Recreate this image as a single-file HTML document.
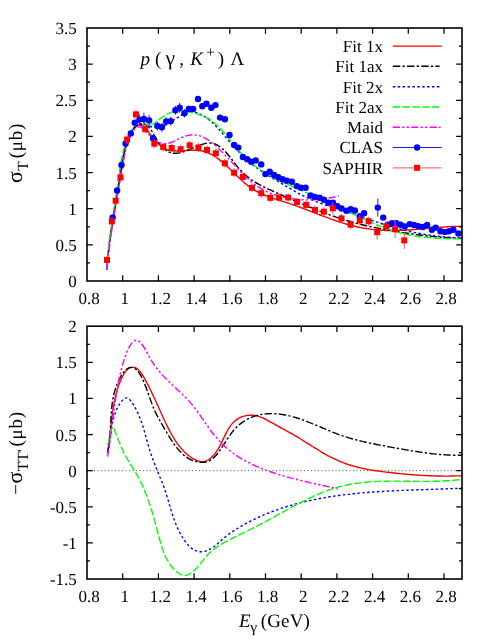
<!DOCTYPE html>
<html><head><meta charset="utf-8"><title>plot</title>
<style>
html,body{margin:0;padding:0;background:#fff;}
body{width:491px;height:639px;overflow:hidden;}
svg{display:block;will-change:transform;}
svg text{font-family:"Liberation Serif",serif;fill:#000;text-rendering:geometricPrecision;}
.tk{font-size:17px;}
.cv{fill:none;stroke-width:1.40;stroke-linejoin:round;}
</style></head><body>
<svg width="491" height="639" viewBox="0 0 491 639">
<rect x="0" y="0" width="491" height="639" fill="#fff"/>
<g id="p1">
<path class="cv" d="M106.90,269.60C106.9,268.9 107.1,266.9 107.1,265.6C107.2,264.2 107.3,262.9 107.4,261.5C107.5,260.2 107.7,258.9 107.8,257.5C107.9,256.2 108.0,254.9 108.2,253.5C108.3,252.2 108.4,250.9 108.6,249.6C108.7,248.2 108.9,246.9 109.0,245.6C109.2,244.3 109.4,242.9 109.5,241.6C109.7,240.3 109.9,239.0 110.1,237.7C110.2,236.4 110.4,235.1 110.6,233.7C110.8,232.4 111.0,231.1 111.2,229.8C111.4,228.5 111.6,227.2 111.8,225.9C112.0,224.6 112.2,223.3 112.4,222.0C112.6,220.6 112.8,219.3 113.0,218.0C113.2,216.7 113.5,215.4 113.7,214.1C113.9,212.8 114.1,211.5 114.3,210.2C114.5,208.9 114.8,207.6 115.0,206.2C115.2,204.9 115.4,203.6 115.6,202.3C115.9,201.0 116.1,199.7 116.3,198.4C116.5,197.1 116.7,195.7 117.0,194.4C117.2,193.1 117.4,191.8 117.6,190.5C117.8,189.2 118.0,187.8 118.2,186.5C118.5,185.2 118.7,183.9 118.9,182.5C119.1,181.2 119.3,179.9 119.5,178.5C119.7,177.2 119.9,175.9 120.1,174.5C120.3,173.2 120.5,171.9 120.7,170.5C120.9,169.2 121.1,167.9 121.3,166.5C121.5,165.2 121.7,163.9 121.9,162.5C122.2,161.2 122.4,159.9 122.7,158.6C122.9,157.2 123.2,155.9 123.5,154.6C123.8,153.3 124.1,152.0 124.4,150.7C124.7,149.4 125.0,148.1 125.4,146.8C125.8,145.6 126.1,144.3 126.5,143.0C127.0,141.7 127.4,140.5 127.8,139.2C128.3,138.0 128.8,136.8 129.3,135.6C129.9,134.3 130.4,133.1 131.0,131.9C131.6,130.8 132.2,129.6 133.0,128.6C133.8,127.6 134.7,126.7 135.7,126.1C136.7,125.5 138.0,125.1 139.1,125.0C140.2,125.0 141.3,125.3 142.4,125.8C143.4,126.4 144.4,127.2 145.3,128.1C146.3,129.1 147.2,130.2 148.1,131.3C149.0,132.4 149.8,133.7 150.7,134.8C151.6,136.0 152.5,137.1 153.4,138.2C154.3,139.4 155.1,140.5 156.1,141.5C157.0,142.6 157.9,143.6 158.9,144.5C159.9,145.4 160.9,146.3 161.9,147.0C163.0,147.8 164.1,148.4 165.2,149.0C166.4,149.5 167.6,149.9 168.8,150.2C170.0,150.5 171.3,150.7 172.6,150.8C173.9,151.0 175.2,151.0 176.6,151.0C177.9,151.0 179.3,151.0 180.7,150.9C182.1,150.8 183.5,150.7 184.9,150.6C186.3,150.5 187.7,150.4 189.1,150.3C190.5,150.3 191.9,150.2 193.3,150.2C194.6,150.2 196.0,150.2 197.3,150.3C198.6,150.4 199.9,150.6 201.2,150.8C202.4,151.0 203.7,151.4 204.9,151.7C206.1,152.1 207.3,152.6 208.4,153.1C209.6,153.6 210.7,154.1 211.9,154.7C213.0,155.3 214.1,156.0 215.2,156.7C216.2,157.4 217.3,158.1 218.4,158.9C219.4,159.7 220.4,160.5 221.5,161.4C222.5,162.2 223.5,163.1 224.5,164.0C225.5,164.9 226.5,165.8 227.5,166.7C228.5,167.7 229.5,168.6 230.5,169.6C231.5,170.5 232.4,171.5 233.4,172.5C234.4,173.4 235.4,174.4 236.4,175.4C237.4,176.3 238.3,177.3 239.3,178.2C240.3,179.1 241.3,180.1 242.3,181.0C243.3,181.9 244.4,182.8 245.4,183.6C246.4,184.5 247.5,185.3 248.5,186.1C249.6,186.9 250.6,187.7 251.7,188.4C252.8,189.1 253.9,189.8 255.0,190.5C256.2,191.1 257.3,191.7 258.4,192.3C259.6,192.9 260.8,193.4 261.9,194.0C263.1,194.5 264.3,195.0 265.5,195.5C266.7,196.0 267.9,196.4 269.1,196.9C270.3,197.3 271.6,197.7 272.8,198.2C274.0,198.6 275.3,199.0 276.5,199.4C277.8,199.8 279.0,200.2 280.3,200.6C281.5,201.0 282.8,201.4 284.1,201.8C285.3,202.2 286.6,202.6 287.9,203.0C289.1,203.4 290.4,203.8 291.7,204.3C292.9,204.7 294.2,205.2 295.5,205.6C296.7,206.1 298.0,206.5 299.3,207.0C300.5,207.5 301.8,207.9 303.1,208.4C304.4,208.9 305.6,209.4 306.9,209.9C308.2,210.4 309.5,210.8 310.7,211.3C312.0,211.8 313.3,212.3 314.5,212.8C315.8,213.3 317.1,213.8 318.4,214.3C319.6,214.8 320.9,215.3 322.2,215.8C323.5,216.2 324.8,216.7 326.0,217.2C327.3,217.7 328.6,218.2 329.9,218.6C331.1,219.1 332.4,219.5 333.7,220.0C335.0,220.4 336.3,220.9 337.6,221.3C338.8,221.7 340.1,222.2 341.4,222.6C342.7,223.0 344.0,223.4 345.3,223.8C346.5,224.1 347.8,224.5 349.1,224.9C350.4,225.2 351.7,225.5 353.0,225.9C354.3,226.2 355.6,226.5 356.8,226.8C358.1,227.1 359.4,227.3 360.7,227.6C362.0,227.8 363.3,228.1 364.6,228.3C365.9,228.5 367.2,228.7 368.5,228.9C369.8,229.1 371.1,229.2 372.4,229.4C373.7,229.5 375.0,229.7 376.3,229.8C377.6,229.9 378.9,230.0 380.2,230.1C381.5,230.2 382.8,230.3 384.1,230.3C385.4,230.4 386.7,230.5 388.0,230.5C389.3,230.5 390.6,230.5 391.9,230.5C393.2,230.5 394.5,230.5 395.9,230.5C397.2,230.5 398.5,230.4 399.8,230.4C401.1,230.3 402.4,230.3 403.7,230.2C405.0,230.1 406.4,230.1 407.7,230.0C409.0,229.9 410.3,229.8 411.6,229.7C413.0,229.6 414.3,229.5 415.6,229.4C416.9,229.3 418.3,229.1 419.6,229.0C420.9,228.9 422.2,228.8 423.6,228.7C424.9,228.5 426.2,228.4 427.6,228.3C428.9,228.2 430.2,228.0 431.6,227.9C432.9,227.8 434.2,227.7 435.6,227.6C436.9,227.5 438.2,227.3 439.6,227.2C440.9,227.1 442.3,227.0 443.6,227.0C445.0,226.9 446.3,226.8 447.7,226.7C449.0,226.6 450.3,226.6 451.7,226.5C453.0,226.5 454.4,226.4 455.8,226.4C457.1,226.4 458.8,226.4 459.8,226.4C460.9,226.4 461.7,226.4 462.0,226.4" stroke="#ff0000"/>
<path class="cv" d="M106.90,269.60C106.9,268.9 107.1,267.0 107.2,265.6C107.3,264.3 107.4,263.0 107.5,261.7C107.6,260.4 107.8,259.0 107.9,257.7C108.0,256.4 108.2,255.1 108.3,253.7C108.4,252.4 108.6,251.1 108.7,249.8C108.9,248.4 109.1,247.1 109.2,245.8C109.4,244.5 109.5,243.1 109.7,241.8C109.9,240.5 110.1,239.2 110.2,237.8C110.4,236.5 110.6,235.2 110.8,233.8C111.0,232.5 111.2,231.2 111.4,229.9C111.6,228.5 111.8,227.2 112.0,225.9C112.2,224.6 112.4,223.2 112.6,221.9C112.8,220.6 113.0,219.3 113.2,217.9C113.4,216.6 113.6,215.3 113.9,214.0C114.1,212.6 114.3,211.3 114.5,210.0C114.7,208.7 114.9,207.4 115.2,206.1C115.4,204.7 115.6,203.4 115.8,202.1C116.0,200.8 116.3,199.5 116.5,198.2C116.7,196.8 116.9,195.5 117.1,194.2C117.4,192.9 117.6,191.6 117.8,190.3C118.0,189.0 118.2,187.7 118.5,186.4C118.7,185.1 118.9,183.8 119.1,182.5C119.3,181.2 119.5,179.9 119.7,178.6C119.9,177.3 120.2,176.0 120.4,174.7C120.6,173.4 120.8,172.1 121.0,170.8C121.2,169.5 121.4,168.2 121.7,166.9C121.9,165.6 122.1,164.3 122.4,163.0C122.6,161.7 122.9,160.4 123.1,159.1C123.4,157.8 123.7,156.5 123.9,155.2C124.2,153.8 124.5,152.5 124.9,151.2C125.2,149.9 125.5,148.5 125.9,147.2C126.2,145.8 126.6,144.5 127.0,143.2C127.4,141.8 127.8,140.5 128.3,139.1C128.8,137.8 129.3,136.5 129.9,135.2C130.5,134.0 131.1,132.7 131.7,131.5C132.4,130.3 133.2,129.2 134.0,128.2C134.8,127.2 135.7,126.3 136.6,125.6C137.6,124.9 138.6,124.3 139.7,124.0C140.7,123.7 141.9,123.5 142.9,123.7C144.0,123.8 145.1,124.1 146.1,124.7C147.1,125.2 148.0,126.0 148.8,126.9C149.7,127.8 150.4,128.9 151.2,130.1C151.9,131.2 152.6,132.6 153.3,133.8C154.1,135.1 154.8,136.5 155.6,137.7C156.3,139.0 157.1,140.4 158.0,141.6C158.8,142.8 159.7,144.1 160.6,145.2C161.5,146.3 162.4,147.4 163.4,148.3C164.4,149.2 165.4,150.1 166.4,150.8C167.5,151.5 168.5,152.0 169.7,152.4C170.8,152.8 171.9,153.1 173.1,153.2C174.3,153.3 175.5,153.3 176.7,153.2C178.0,153.1 179.2,152.8 180.5,152.6C181.8,152.3 183.1,151.9 184.4,151.5C185.7,151.0 187.0,150.5 188.3,150.0C189.6,149.5 190.9,148.9 192.2,148.4C193.6,147.8 194.9,147.3 196.2,146.7C197.5,146.2 198.8,145.6 200.1,145.1C201.4,144.7 202.7,144.2 204.0,143.8C205.2,143.5 206.5,143.2 207.7,143.1C208.9,143.0 210.2,143.0 211.4,143.1C212.5,143.3 213.7,143.6 214.9,144.0C216.0,144.4 217.1,145.0 218.2,145.7C219.3,146.3 220.4,147.1 221.5,147.9C222.5,148.8 223.5,149.8 224.5,150.7C225.5,151.7 226.4,152.8 227.3,153.8C228.2,154.9 229.1,156.0 230.0,157.0C230.8,158.1 231.6,159.2 232.4,160.2C233.2,161.3 234.0,162.4 234.8,163.4C235.7,164.5 236.5,165.5 237.3,166.6C238.2,167.6 239.0,168.6 240.0,169.6C240.9,170.6 241.8,171.6 242.8,172.6C243.8,173.5 244.8,174.4 245.9,175.3C246.9,176.2 248.0,177.1 249.0,177.9C250.1,178.8 251.2,179.6 252.3,180.3C253.4,181.1 254.5,181.8 255.6,182.5C256.8,183.1 257.9,183.8 259.0,184.4C260.2,185.0 261.3,185.6 262.5,186.2C263.6,186.8 264.8,187.4 266.0,187.9C267.1,188.5 268.3,189.0 269.5,189.6C270.7,190.1 271.9,190.7 273.1,191.2C274.3,191.7 275.5,192.3 276.7,192.8C277.9,193.4 279.1,193.9 280.3,194.4C281.5,195.0 282.7,195.5 283.9,196.1C285.2,196.6 286.4,197.1 287.6,197.7C288.8,198.2 290.1,198.8 291.3,199.3C292.5,199.8 293.7,200.4 295.0,200.9C296.2,201.4 297.4,202.0 298.7,202.5C299.9,203.0 301.2,203.5 302.4,204.1C303.6,204.6 304.9,205.1 306.1,205.6C307.4,206.1 308.6,206.7 309.8,207.2C311.1,207.7 312.3,208.2 313.6,208.7C314.8,209.2 316.1,209.7 317.3,210.2C318.6,210.7 319.8,211.2 321.1,211.7C322.4,212.1 323.6,212.6 324.9,213.1C326.1,213.6 327.4,214.0 328.7,214.5C329.9,214.9 331.2,215.4 332.4,215.8C333.7,216.3 335.0,216.7 336.2,217.2C337.5,217.6 338.8,218.0 340.1,218.4C341.3,218.8 342.6,219.3 343.9,219.7C345.1,220.1 346.4,220.4 347.7,220.8C349.0,221.2 350.2,221.6 351.5,221.9C352.8,222.3 354.1,222.7 355.4,223.0C356.7,223.4 357.9,223.7 359.2,224.0C360.5,224.3 361.8,224.7 363.1,225.0C364.4,225.3 365.7,225.6 366.9,225.9C368.2,226.2 369.5,226.4 370.8,226.7C372.1,227.0 373.4,227.3 374.7,227.5C376.0,227.8 377.3,228.1 378.6,228.3C379.9,228.6 381.2,228.8 382.5,229.1C383.8,229.3 385.1,229.5 386.4,229.8C387.7,230.0 389.0,230.2 390.3,230.4C391.6,230.7 392.9,230.9 394.2,231.1C395.5,231.3 396.9,231.5 398.2,231.8C399.5,232.0 400.8,232.2 402.1,232.4C403.4,232.6 404.7,232.8 406.0,233.0C407.4,233.2 408.7,233.4 410.0,233.6C411.3,233.8 412.6,234.0 413.9,234.2C415.3,234.4 416.6,234.5 417.9,234.7C419.2,234.9 420.5,235.1 421.9,235.2C423.2,235.4 424.5,235.6 425.8,235.7C427.2,235.9 428.5,236.0 429.8,236.2C431.2,236.3 432.5,236.5 433.8,236.6C435.1,236.7 436.5,236.9 437.8,237.0C439.1,237.1 440.5,237.2 441.8,237.3C443.1,237.4 444.5,237.5 445.8,237.6C447.1,237.7 448.5,237.8 449.8,237.8C451.1,237.9 452.5,238.0 453.8,238.0C455.2,238.1 456.5,238.1 457.8,238.1C459.2,238.2 461.2,238.2 461.9,238.2C462.6,238.2 462.0,238.2 462.0,238.2" stroke="#000000" stroke-dasharray="7.5,2.2,2.3,2.2"/>
<path class="cv" d="M106.90,269.60C106.9,268.9 107.1,267.0 107.2,265.7C107.2,264.4 107.3,263.0 107.5,261.7C107.6,260.4 107.7,259.1 107.8,257.8C107.9,256.4 108.1,255.1 108.2,253.8C108.3,252.5 108.5,251.1 108.6,249.8C108.8,248.5 108.9,247.2 109.1,245.8C109.3,244.5 109.4,243.2 109.6,241.8C109.8,240.5 110.0,239.2 110.2,237.9C110.3,236.5 110.5,235.2 110.7,233.9C110.9,232.5 111.1,231.2 111.3,229.9C111.5,228.5 111.7,227.2 111.9,225.9C112.1,224.5 112.3,223.2 112.6,221.9C112.8,220.6 113.0,219.2 113.2,217.9C113.4,216.6 113.6,215.2 113.8,213.9C114.1,212.6 114.3,211.3 114.5,209.9C114.7,208.6 115.0,207.3 115.2,206.0C115.4,204.7 115.6,203.3 115.8,202.0C116.1,200.7 116.3,199.4 116.5,198.1C116.7,196.8 116.9,195.5 117.2,194.1C117.4,192.8 117.6,191.5 117.8,190.2C118.0,188.9 118.2,187.6 118.4,186.3C118.6,185.0 118.8,183.7 119.0,182.4C119.3,181.1 119.4,179.9 119.6,178.6C119.8,177.3 120.0,176.0 120.2,174.7C120.4,173.4 120.6,172.2 120.8,170.9C121.0,169.6 121.2,168.3 121.4,167.0C121.6,165.7 121.8,164.4 122.1,163.1C122.3,161.8 122.5,160.5 122.8,159.2C123.0,157.9 123.3,156.6 123.6,155.2C123.9,153.9 124.2,152.6 124.5,151.2C124.8,149.8 125.1,148.5 125.5,147.1C125.9,145.7 126.3,144.3 126.7,142.9C127.1,141.5 127.6,140.1 128.1,138.8C128.6,137.4 129.1,136.1 129.7,134.9C130.3,133.7 130.9,132.5 131.6,131.4C132.3,130.3 133.1,129.3 133.9,128.4C134.8,127.5 135.6,126.8 136.6,126.2C137.6,125.6 138.6,125.1 139.7,124.8C140.8,124.6 142.0,124.5 143.2,124.6C144.4,124.7 145.6,125.1 146.9,125.4C148.1,125.7 149.4,126.2 150.7,126.5C152.0,126.8 153.3,127.1 154.6,127.1C155.9,127.2 157.2,127.2 158.5,127.0C159.8,126.8 161.1,126.5 162.3,126.1C163.6,125.7 164.8,125.1 166.0,124.5C167.2,123.9 168.4,123.2 169.6,122.5C170.8,121.8 172.0,121.0 173.2,120.3C174.4,119.5 175.6,118.7 176.8,117.9C178.0,117.2 179.2,116.4 180.4,115.7C181.6,115.0 182.9,114.3 184.1,113.8C185.4,113.2 186.6,112.7 187.9,112.4C189.1,112.1 190.4,111.9 191.6,111.9C192.9,111.9 194.1,112.1 195.3,112.4C196.6,112.7 197.8,113.1 198.9,113.6C200.1,114.1 201.3,114.7 202.4,115.3C203.5,115.9 204.6,116.6 205.7,117.3C206.7,118.0 207.8,118.8 208.8,119.6C209.8,120.4 210.8,121.2 211.8,122.1C212.8,123.0 213.7,123.9 214.7,124.9C215.6,125.8 216.5,126.8 217.5,127.8C218.4,128.8 219.3,129.8 220.2,130.8C221.1,131.8 222.0,132.9 222.9,133.9C223.8,135.0 224.7,136.0 225.6,137.1C226.5,138.1 227.3,139.2 228.2,140.2C229.1,141.3 230.0,142.4 230.9,143.4C231.8,144.4 232.7,145.4 233.6,146.5C234.5,147.5 235.4,148.5 236.3,149.4C237.3,150.4 238.2,151.4 239.1,152.4C240.0,153.3 241.0,154.3 241.9,155.2C242.9,156.1 243.8,157.0 244.8,157.9C245.8,158.8 246.8,159.7 247.7,160.6C248.7,161.4 249.7,162.3 250.7,163.1C251.7,164.0 252.7,164.8 253.8,165.6C254.8,166.4 255.8,167.2 256.9,167.9C257.9,168.7 259.0,169.4 260.0,170.2C261.1,170.9 262.2,171.6 263.2,172.3C264.3,173.0 265.4,173.7 266.5,174.4C267.6,175.1 268.7,175.8 269.9,176.5C271.0,177.2 272.1,177.9 273.2,178.6C274.4,179.2 275.5,179.9 276.7,180.6C277.8,181.3 279.0,182.0 280.1,182.7C281.3,183.4 282.4,184.0 283.6,184.7C284.8,185.4 286.0,186.1 287.1,186.8C288.3,187.5 289.5,188.2 290.7,188.9C291.9,189.6 293.1,190.3 294.3,191.0C295.5,191.7 296.7,192.3 297.9,193.0C299.1,193.6 300.3,194.3 301.5,194.9C302.7,195.5 303.9,196.1 305.2,196.7C306.4,197.3 307.6,197.9 308.8,198.4C310.0,199.0 311.2,199.5 312.5,200.0C313.7,200.6 314.9,201.1 316.1,201.6C317.4,202.0 318.6,202.5 319.8,203.0C321.0,203.4 322.3,203.9 323.5,204.3C324.7,204.8 326.0,205.2 327.2,205.6C328.4,206.0 329.7,206.5 330.9,206.9C332.2,207.3 333.4,207.7 334.6,208.1C335.9,208.5 337.1,208.9 338.4,209.3C339.6,209.7 340.9,210.0 342.1,210.4C343.4,210.8 344.6,211.2 345.9,211.6C347.1,212.0 348.4,212.4 349.6,212.8C350.9,213.2 352.1,213.6 353.4,214.0C354.6,214.4 355.9,214.9 357.2,215.3C358.4,215.7 359.7,216.1 361.0,216.6C362.2,217.0 363.5,217.4 364.7,217.8C366.0,218.3 367.3,218.7 368.6,219.2C369.8,219.6 371.1,220.0 372.4,220.5C373.6,220.9 374.9,221.3 376.2,221.8C377.5,222.2 378.7,222.6 380.0,223.0C381.3,223.5 382.6,223.9 383.9,224.3C385.2,224.7 386.4,225.1 387.7,225.5C389.0,225.9 390.3,226.3 391.6,226.7C392.9,227.1 394.2,227.5 395.5,227.8C396.7,228.2 398.0,228.6 399.3,228.9C400.6,229.3 401.9,229.6 403.2,229.9C404.5,230.3 405.8,230.6 407.1,230.9C408.4,231.2 409.7,231.5 411.0,231.8C412.3,232.0 413.6,232.3 414.9,232.6C416.2,232.8 417.5,233.1 418.8,233.3C420.2,233.6 421.5,233.8 422.8,234.0C424.1,234.2 425.4,234.5 426.7,234.7C428.0,234.9 429.3,235.1 430.7,235.2C432.0,235.4 433.3,235.6 434.6,235.8C435.9,235.9 437.2,236.1 438.6,236.2C439.9,236.4 441.2,236.5 442.5,236.7C443.9,236.8 445.2,236.9 446.5,237.1C447.8,237.2 449.2,237.3 450.5,237.4C451.8,237.5 453.1,237.6 454.5,237.7C455.8,237.8 457.2,237.8 458.5,237.9C459.7,238.0 461.4,238.1 462.0,238.1" stroke="#0000ff" stroke-dasharray="2.5,2.4"/>
<path class="cv" d="M106.90,269.60C106.9,268.9 107.0,266.9 107.1,265.5C107.2,264.2 107.2,262.8 107.3,261.5C107.4,260.1 107.5,258.8 107.6,257.5C107.7,256.1 107.8,254.8 107.9,253.5C108.1,252.1 108.2,250.8 108.3,249.5C108.5,248.2 108.6,246.8 108.7,245.5C108.9,244.2 109.0,242.9 109.2,241.6C109.4,240.2 109.5,238.9 109.7,237.6C109.9,236.3 110.0,235.0 110.2,233.7C110.4,232.4 110.6,231.1 110.7,229.7C110.9,228.4 111.1,227.1 111.3,225.8C111.5,224.5 111.7,223.2 111.9,221.9C112.1,220.6 112.3,219.3 112.5,218.0C112.7,216.7 112.9,215.4 113.1,214.1C113.3,212.8 113.5,211.5 113.7,210.2C113.9,208.8 114.2,207.5 114.4,206.2C114.6,204.9 114.8,203.6 115.0,202.3C115.2,201.0 115.4,199.7 115.6,198.4C115.8,197.0 116.0,195.7 116.2,194.4C116.5,193.1 116.7,191.8 116.9,190.4C117.1,189.1 117.3,187.8 117.5,186.5C117.7,185.1 117.9,183.8 118.1,182.5C118.2,181.1 118.4,179.8 118.6,178.5C118.8,177.1 119.0,175.8 119.2,174.4C119.4,173.1 119.6,171.7 119.7,170.4C119.9,169.1 120.1,167.7 120.3,166.4C120.5,165.0 120.8,163.7 121.0,162.4C121.2,161.0 121.4,159.7 121.7,158.4C122.0,157.0 122.2,155.7 122.5,154.4C122.8,153.1 123.1,151.8 123.4,150.5C123.8,149.2 124.1,147.9 124.5,146.7C124.9,145.4 125.3,144.1 125.7,142.9C126.2,141.7 126.6,140.4 127.1,139.2C127.7,138.0 128.2,136.8 128.8,135.6C129.3,134.4 129.9,133.3 130.6,132.1C131.3,131.0 131.9,129.9 132.7,128.7C133.4,127.6 134.2,126.5 135.0,125.5C135.9,124.5 136.8,123.3 137.7,122.6C138.6,121.8 139.6,121.1 140.6,120.9C141.6,120.8 142.6,121.1 143.7,121.8C144.7,122.4 145.8,124.2 146.9,124.8C148.0,125.3 149.2,125.5 150.3,125.2C151.5,125.0 152.6,124.0 153.8,123.3C155.0,122.5 156.2,121.7 157.4,120.8C158.6,120.0 159.8,119.1 161.0,118.2C162.2,117.4 163.4,116.5 164.6,115.8C165.9,115.0 167.1,114.3 168.3,113.7C169.6,113.1 170.8,112.5 172.1,112.1C173.3,111.8 174.6,111.5 175.9,111.3C177.1,111.1 178.4,111.0 179.7,111.0C180.9,111.0 182.2,111.0 183.5,111.1C184.8,111.2 186.1,111.4 187.3,111.6C188.6,111.8 189.9,112.1 191.2,112.3C192.5,112.6 193.7,112.9 195.0,113.3C196.3,113.6 197.6,114.0 198.8,114.4C200.1,114.9 201.3,115.3 202.5,115.8C203.8,116.3 205.0,116.9 206.1,117.5C207.3,118.1 208.5,118.7 209.6,119.4C210.7,120.1 211.8,120.9 212.9,121.7C214.0,122.5 215.0,123.3 216.0,124.2C217.0,125.1 218.0,126.1 219.0,127.0C219.9,128.0 220.9,129.0 221.8,130.0C222.7,131.0 223.6,132.0 224.4,133.0C225.3,134.0 226.1,135.1 227.0,136.1C227.8,137.1 228.6,138.2 229.5,139.2C230.3,140.3 231.1,141.3 231.9,142.3C232.7,143.4 233.6,144.4 234.4,145.4C235.2,146.4 236.1,147.5 236.9,148.5C237.8,149.5 238.6,150.5 239.5,151.5C240.4,152.5 241.3,153.5 242.3,154.4C243.2,155.4 244.1,156.3 245.1,157.3C246.1,158.2 247.0,159.1 248.0,160.0C249.0,160.9 250.0,161.8 251.0,162.6C252.1,163.5 253.1,164.3 254.1,165.1C255.2,165.9 256.2,166.7 257.3,167.5C258.4,168.3 259.5,169.0 260.6,169.7C261.7,170.5 262.8,171.2 263.9,171.9C265.0,172.6 266.2,173.3 267.3,174.0C268.4,174.6 269.6,175.3 270.8,175.9C271.9,176.6 273.1,177.2 274.3,177.8C275.4,178.5 276.6,179.1 277.8,179.7C279.0,180.3 280.2,180.9 281.4,181.5C282.6,182.0 283.8,182.6 285.0,183.2C286.2,183.7 287.4,184.3 288.6,184.9C289.8,185.4 291.1,186.0 292.3,186.5C293.5,187.1 294.7,187.6 296.0,188.1C297.2,188.7 298.4,189.2 299.6,189.7C300.9,190.3 302.1,190.8 303.3,191.3C304.5,191.9 305.8,192.4 307.0,192.9C308.2,193.5 309.4,194.0 310.7,194.5C311.9,195.1 313.1,195.6 314.3,196.1C315.5,196.7 316.7,197.2 318.0,197.7C319.2,198.3 320.4,198.8 321.6,199.3C322.8,199.9 324.0,200.4 325.3,201.0C326.5,201.5 327.7,202.0 328.9,202.6C330.1,203.1 331.3,203.7 332.6,204.2C333.8,204.8 335.0,205.3 336.2,205.9C337.4,206.4 338.6,207.0 339.8,207.5C341.1,208.1 342.3,208.7 343.5,209.2C344.7,209.8 345.9,210.3 347.1,210.9C348.3,211.5 349.6,212.0 350.8,212.6C352.0,213.2 353.2,213.8 354.4,214.3C355.7,214.9 356.9,215.5 358.1,216.1C359.3,216.7 360.5,217.2 361.8,217.8C363.0,218.4 364.2,219.0 365.4,219.6C366.7,220.1 367.9,220.7 369.1,221.3C370.3,221.8 371.6,222.4 372.8,222.9C374.0,223.5 375.3,224.0 376.5,224.6C377.7,225.1 379.0,225.6 380.2,226.1C381.5,226.6 382.7,227.1 383.9,227.6C385.2,228.1 386.4,228.6 387.7,229.0C388.9,229.5 390.2,229.9 391.4,230.3C392.7,230.8 393.9,231.2 395.2,231.5C396.4,231.9 397.7,232.3 399.0,232.6C400.2,233.0 401.5,233.3 402.8,233.6C404.0,233.9 405.3,234.2 406.6,234.5C407.8,234.7 409.1,235.0 410.4,235.2C411.7,235.5 413.0,235.7 414.3,235.9C415.5,236.1 416.8,236.3 418.1,236.5C419.4,236.6 420.7,236.8 422.0,237.0C423.3,237.1 424.6,237.3 425.9,237.4C427.2,237.5 428.5,237.6 429.9,237.7C431.2,237.8 432.5,237.9 433.8,238.0C435.1,238.1 436.5,238.2 437.8,238.3C439.1,238.4 440.5,238.4 441.8,238.5C443.2,238.5 444.5,238.6 445.9,238.6C447.2,238.7 448.6,238.7 449.9,238.8C451.3,238.8 452.6,238.8 454.0,238.9C455.4,238.9 456.8,238.9 458.1,238.9C459.5,239.0 461.4,239.0 462.0,239.0" stroke="#00ff00" stroke-dasharray="7.5,2.3"/>
<path class="cv" d="M106.90,269.60C107.0,268.9 107.2,267.0 107.3,265.7C107.4,264.3 107.6,263.0 107.7,261.7C107.8,260.4 108.0,259.1 108.1,257.8C108.3,256.4 108.4,255.1 108.6,253.8C108.8,252.5 108.9,251.2 109.1,249.8C109.2,248.5 109.4,247.2 109.6,245.9C109.8,244.5 109.9,243.2 110.1,241.9C110.3,240.6 110.5,239.2 110.6,237.9C110.8,236.6 111.0,235.3 111.2,234.0C111.4,232.6 111.6,231.3 111.8,230.0C112.0,228.7 112.2,227.3 112.4,226.0C112.6,224.7 112.8,223.4 113.0,222.0C113.2,220.7 113.4,219.4 113.6,218.1C113.8,216.7 114.0,215.4 114.3,214.1C114.5,212.8 114.7,211.4 114.9,210.1C115.1,208.8 115.4,207.5 115.6,206.2C115.8,204.8 116.0,203.5 116.3,202.2C116.5,200.9 116.7,199.5 117.0,198.2C117.2,196.9 117.4,195.6 117.7,194.3C117.9,193.0 118.1,191.6 118.4,190.3C118.6,189.0 118.9,187.7 119.1,186.4C119.3,185.1 119.6,183.8 119.8,182.4C120.1,181.1 120.3,179.8 120.5,178.5C120.8,177.2 121.0,175.9 121.3,174.6C121.5,173.3 121.7,172.0 122.0,170.7C122.2,169.4 122.4,168.1 122.6,166.8C122.9,165.5 123.1,164.2 123.3,162.9C123.5,161.6 123.8,160.3 124.0,159.0C124.2,157.7 124.4,156.4 124.7,155.1C124.9,153.8 125.2,152.5 125.5,151.2C125.7,149.9 126.0,148.6 126.4,147.4C126.7,146.1 127.1,144.8 127.5,143.5C127.9,142.2 128.4,141.0 128.9,139.7C129.4,138.4 130.0,137.1 130.6,135.9C131.2,134.6 131.9,133.3 132.7,132.1C133.4,130.9 134.2,129.8 135.0,128.9C135.9,128.1 136.8,127.4 137.7,127.1C138.6,126.8 139.5,126.9 140.5,127.2C141.4,127.6 142.4,128.3 143.4,129.1C144.5,129.9 145.5,131.0 146.5,132.0C147.6,133.0 148.7,134.2 149.8,135.3C150.9,136.3 152.0,137.5 153.2,138.4C154.3,139.4 155.5,140.3 156.7,141.0C157.8,141.8 159.1,142.4 160.3,142.8C161.5,143.3 162.7,143.6 164.0,143.7C165.2,143.8 166.5,143.6 167.7,143.4C169.0,143.2 170.3,142.7 171.5,142.3C172.8,141.8 174.1,141.2 175.3,140.6C176.6,140.0 177.9,139.3 179.2,138.7C180.4,138.1 181.7,137.5 182.9,137.0C184.2,136.5 185.4,136.1 186.7,135.8C187.9,135.4 189.1,135.2 190.4,135.0C191.6,134.9 192.8,134.8 194.0,134.9C195.2,134.9 196.4,135.0 197.6,135.3C198.8,135.5 199.9,135.8 201.1,136.2C202.3,136.7 203.4,137.2 204.5,137.8C205.7,138.4 206.8,139.0 207.9,139.7C209.0,140.5 210.1,141.3 211.2,142.1C212.3,142.9 213.4,143.8 214.5,144.7C215.5,145.6 216.6,146.6 217.6,147.5C218.6,148.5 219.6,149.5 220.7,150.5C221.7,151.5 222.6,152.5 223.6,153.5C224.6,154.5 225.6,155.5 226.5,156.5C227.5,157.5 228.4,158.5 229.3,159.6C230.3,160.6 231.2,161.6 232.1,162.6C233.1,163.6 234.0,164.6 234.9,165.6C235.8,166.6 236.8,167.5 237.7,168.5C238.6,169.5 239.5,170.5 240.4,171.4C241.4,172.4 242.3,173.3 243.2,174.2C244.2,175.2 245.1,176.1 246.1,177.0C247.0,177.9 248.0,178.7 249.0,179.6C249.9,180.5 250.9,181.3 251.9,182.1C252.9,182.9 253.9,183.7 255.0,184.5C256.0,185.2 257.1,186.0 258.1,186.7C259.2,187.4 260.3,188.1 261.4,188.7C262.5,189.4 263.7,190.0 264.8,190.6C266.0,191.2 267.2,191.7 268.4,192.3C269.6,192.8 270.8,193.3 272.0,193.8C273.3,194.2 274.5,194.7 275.8,195.1C277.1,195.5 278.3,195.9 279.6,196.2C280.9,196.6 282.2,196.9 283.5,197.2C284.9,197.5 286.2,197.8 287.5,198.1C288.9,198.3 290.2,198.5 291.6,198.7C292.9,198.9 294.3,199.1 295.6,199.2C297.0,199.4 298.4,199.5 299.7,199.6C301.1,199.7 302.5,199.8 303.8,199.8C305.2,199.9 306.6,199.9 307.9,199.9C309.3,199.9 310.7,199.9 312.0,199.8C313.4,199.8 314.7,199.7 316.1,199.6C317.4,199.5 318.8,199.4 320.1,199.3C321.5,199.1 322.8,199.0 324.1,198.8C325.4,198.6 326.7,198.4 328.0,198.2C329.3,198.0 330.6,197.8 331.9,197.5C333.1,197.3 334.4,197.0 335.6,196.7C336.8,196.4 338.4,196.0 339.0,195.8" stroke="#ff00ff" stroke-dasharray="7.2,2.2,2.3,2.2,2.3,2.2"/>
<path d="M139.4,114.6v10.0M143.9,112.5v13.0M149.1,115.0v11.0M157.4,121.6v8.8M161.9,122.8v9.0M166.2,117.3v8.4M170.8,116.5v9.2M175.4,105.7v9.0M179.7,102.7v10.0M184.5,109.0v8.4M377.8,198.6v18.0" stroke="#0000ff" stroke-width="0.9" fill="none"/>
<g fill="#0000ff"><circle cx="112.7" cy="217.5" r="3.2"/><circle cx="117.1" cy="190.4" r="3.2"/><circle cx="121.5" cy="165.0" r="3.2"/><circle cx="125.6" cy="143.4" r="3.2"/><circle cx="130.8" cy="133.4" r="3.2"/><circle cx="134.8" cy="122.7" r="3.2"/><circle cx="139.4" cy="119.6" r="3.2"/><circle cx="143.9" cy="119.0" r="3.2"/><circle cx="149.1" cy="120.5" r="3.2"/><circle cx="153.1" cy="138.2" r="3.2"/><circle cx="157.4" cy="126.0" r="3.2"/><circle cx="161.9" cy="127.3" r="3.2"/><circle cx="166.2" cy="121.5" r="3.2"/><circle cx="170.8" cy="121.1" r="3.2"/><circle cx="175.4" cy="110.2" r="3.2"/><circle cx="179.7" cy="107.7" r="3.2"/><circle cx="184.5" cy="113.2" r="3.2"/><circle cx="188.8" cy="108.9" r="3.2"/><circle cx="193.1" cy="108.9" r="3.2"/><circle cx="198.0" cy="99.0" r="3.2"/><circle cx="202.3" cy="106.2" r="3.2"/><circle cx="206.4" cy="103.7" r="3.2"/><circle cx="211.3" cy="107.7" r="3.2"/><circle cx="215.5" cy="105.1" r="3.2"/><circle cx="220.1" cy="117.6" r="3.2"/><circle cx="224.9" cy="119.3" r="3.2"/><circle cx="229.5" cy="135.0" r="3.2"/><circle cx="234.1" cy="145.0" r="3.2"/><circle cx="238.3" cy="147.6" r="3.2"/><circle cx="242.9" cy="157.0" r="3.2"/><circle cx="247.2" cy="159.3" r="3.2"/><circle cx="251.2" cy="161.8" r="3.2"/><circle cx="255.7" cy="160.4" r="3.2"/><circle cx="261.2" cy="164.4" r="3.2"/><circle cx="265.4" cy="174.1" r="3.2"/><circle cx="269.7" cy="171.8" r="3.2"/><circle cx="274.0" cy="175.0" r="3.2"/><circle cx="278.3" cy="177.2" r="3.2"/><circle cx="282.5" cy="179.2" r="3.2"/><circle cx="286.8" cy="180.7" r="3.2"/><circle cx="291.9" cy="181.8" r="3.2"/><circle cx="296.8" cy="186.1" r="3.2"/><circle cx="301.1" cy="187.8" r="3.2"/><circle cx="305.6" cy="187.8" r="3.2"/><circle cx="310.5" cy="195.5" r="3.2"/><circle cx="314.8" cy="196.9" r="3.2"/><circle cx="319.6" cy="197.8" r="3.2"/><circle cx="323.9" cy="199.8" r="3.2"/><circle cx="328.5" cy="202.8" r="3.2"/><circle cx="333.0" cy="202.7" r="3.2"/><circle cx="337.3" cy="206.2" r="3.2"/><circle cx="341.5" cy="208.5" r="3.2"/><circle cx="346.4" cy="210.7" r="3.2"/><circle cx="350.7" cy="209.3" r="3.2"/><circle cx="354.9" cy="210.5" r="3.2"/><circle cx="359.8" cy="216.2" r="3.2"/><circle cx="364.1" cy="213.3" r="3.2"/><circle cx="377.8" cy="207.6" r="3.2"/><circle cx="383.2" cy="217.6" r="3.2"/><circle cx="387.7" cy="224.7" r="3.2"/><circle cx="392.0" cy="223.3" r="3.2"/><circle cx="396.3" cy="223.3" r="3.2"/><circle cx="400.6" cy="224.7" r="3.2"/><circle cx="404.8" cy="226.4" r="3.2"/><circle cx="409.7" cy="224.1" r="3.2"/><circle cx="414.0" cy="225.0" r="3.2"/><circle cx="418.2" cy="226.1" r="3.2"/><circle cx="422.8" cy="227.0" r="3.2"/><circle cx="427.1" cy="225.0" r="3.2"/><circle cx="431.9" cy="229.8" r="3.2"/><circle cx="435.6" cy="227.6" r="3.2"/><circle cx="440.5" cy="231.3" r="3.2"/><circle cx="444.8" cy="232.1" r="3.2"/><circle cx="449.0" cy="231.3" r="3.2"/><circle cx="453.3" cy="229.8" r="3.2"/><circle cx="458.4" cy="233.5" r="3.2"/></g>
<path d="M107.0,255.9v8.0M111.9,217.4v8.0M115.7,196.7v8.0M120.5,173.4v8.0M127.1,135.0v9.0M136.0,109.4v10.0M145.2,124.6v9.0M154.3,139.2v9.0M163.2,142.6v9.0M171.7,143.5v9.0M180.6,144.7v9.0M189.7,140.8v9.0M198.5,142.9v9.0M207.0,145.4v9.0M215.8,148.8v9.0M224.9,158.8v9.0M234.1,168.2v9.0M242.9,172.5v9.0M252.0,183.3v9.0M261.2,188.7v9.0M270.3,193.3v9.0M279.1,193.5v8.0M288.2,193.5v8.0M297.1,198.0v8.0M306.2,200.9v8.0M315.0,205.5v9.0M323.9,207.2v9.0M332.8,202.4v12.0M341.5,213.9v9.0M350.7,220.2v9.0M359.8,215.4v10.0M368.6,216.8v9.0M377.2,224.6v15.0M386.3,221.4v10.0M395.1,220.8v17.0M404.3,231.9v17.0" stroke="#ff5555" stroke-width="1" fill="none"/>
<g fill="#ff0000"><rect x="104.0" y="256.9" width="6" height="6"/><rect x="108.9" y="218.4" width="6" height="6"/><rect x="112.7" y="197.7" width="6" height="6"/><rect x="117.5" y="174.4" width="6" height="6"/><rect x="124.1" y="136.5" width="6" height="6"/><rect x="133.0" y="111.4" width="6" height="6"/><rect x="142.2" y="126.1" width="6" height="6"/><rect x="151.3" y="140.7" width="6" height="6"/><rect x="160.2" y="144.1" width="6" height="6"/><rect x="168.7" y="145.0" width="6" height="6"/><rect x="177.6" y="146.2" width="6" height="6"/><rect x="186.7" y="142.3" width="6" height="6"/><rect x="195.5" y="144.4" width="6" height="6"/><rect x="204.0" y="146.9" width="6" height="6"/><rect x="212.8" y="150.3" width="6" height="6"/><rect x="221.9" y="160.3" width="6" height="6"/><rect x="231.1" y="169.7" width="6" height="6"/><rect x="239.9" y="174.0" width="6" height="6"/><rect x="249.0" y="184.8" width="6" height="6"/><rect x="258.2" y="190.2" width="6" height="6"/><rect x="267.3" y="194.8" width="6" height="6"/><rect x="276.1" y="194.5" width="6" height="6"/><rect x="285.2" y="194.5" width="6" height="6"/><rect x="294.1" y="199.0" width="6" height="6"/><rect x="303.2" y="201.9" width="6" height="6"/><rect x="312.0" y="207.0" width="6" height="6"/><rect x="320.9" y="208.7" width="6" height="6"/><rect x="329.8" y="205.4" width="6" height="6"/><rect x="338.5" y="215.4" width="6" height="6"/><rect x="347.7" y="221.7" width="6" height="6"/><rect x="356.8" y="217.4" width="6" height="6"/><rect x="365.6" y="218.3" width="6" height="6"/><rect x="374.2" y="229.1" width="6" height="6"/><rect x="383.3" y="223.4" width="6" height="6"/><rect x="392.1" y="226.3" width="6" height="6"/><rect x="401.3" y="237.4" width="6" height="6"/></g>
<path d="M122.70,281.00v-5.8M122.70,28.00v5.8M158.40,281.00v-5.8M158.40,28.00v5.8M194.10,281.00v-5.8M194.10,28.00v5.8M229.80,281.00v-5.8M229.80,28.00v5.8M265.50,281.00v-5.8M265.50,28.00v5.8M301.20,281.00v-5.8M301.20,28.00v5.8M336.90,281.00v-5.8M336.90,28.00v5.8M372.60,281.00v-5.8M372.60,28.00v5.8M408.30,281.00v-5.8M408.30,28.00v5.8M444.00,281.00v-5.8M444.00,28.00v5.8M87.00,262.93h3.0M462.00,262.93h-3.0M87.00,244.86h5.8M462.00,244.86h-5.8M87.00,226.79h3.0M462.00,226.79h-3.0M87.00,208.71h5.8M462.00,208.71h-5.8M87.00,190.64h3.0M462.00,190.64h-3.0M87.00,172.57h5.8M462.00,172.57h-5.8M87.00,154.50h3.0M462.00,154.50h-3.0M87.00,136.43h5.8M462.00,136.43h-5.8M87.00,118.36h3.0M462.00,118.36h-3.0M87.00,100.29h5.8M462.00,100.29h-5.8M87.00,82.21h3.0M462.00,82.21h-3.0M87.00,64.14h5.8M462.00,64.14h-5.8M87.00,46.07h3.0M462.00,46.07h-3.0" stroke="#000" stroke-width="1.25" fill="none"/>
<rect x="87.00" y="28.00" width="375.00" height="253.00" fill="none" stroke="#000" stroke-width="1.6"/>
</g>
<g id="p2">
<path d="M87.0,470.66H462.0" stroke="#000" stroke-width="0.7" stroke-dasharray="1,2.5" fill="none"/>
<path class="cv" d="M107.70,451.50C107.8,450.8 108.2,448.8 108.4,447.5C108.7,446.2 108.9,444.8 109.1,443.5C109.3,442.2 109.5,440.8 109.6,439.5C109.8,438.2 110.0,436.9 110.1,435.5C110.3,434.2 110.4,432.9 110.5,431.6C110.7,430.3 110.8,428.9 110.9,427.6C111.1,426.3 111.2,425.0 111.3,423.7C111.5,422.4 111.6,421.1 111.8,419.7C111.9,418.4 112.0,417.1 112.2,415.8C112.3,414.5 112.5,413.2 112.7,411.9C112.8,410.6 113.0,409.3 113.2,408.0C113.4,406.7 113.6,405.4 113.9,404.1C114.1,402.7 114.3,401.4 114.6,400.1C114.9,398.8 115.2,397.5 115.5,396.2C115.8,394.9 116.1,393.6 116.5,392.3C116.9,391.0 117.2,389.7 117.7,388.4C118.1,387.1 118.5,385.8 119.0,384.5C119.5,383.2 120.0,381.9 120.6,380.6C121.1,379.3 121.7,378.0 122.4,376.7C123.0,375.4 123.7,374.2 124.4,373.0C125.2,371.9 126.0,370.8 126.9,370.0C127.8,369.1 128.8,368.3 129.8,367.9C130.8,367.4 131.8,367.1 132.9,367.1C133.9,367.1 134.9,367.4 135.9,367.9C136.8,368.4 137.8,369.2 138.7,370.0C139.6,370.9 140.4,372.0 141.3,373.1C142.1,374.3 142.9,375.6 143.7,376.9C144.4,378.1 145.2,379.5 145.9,380.9C146.6,382.2 147.3,383.6 148.0,384.9C148.6,386.2 149.3,387.5 149.9,388.7C150.5,390.0 151.1,391.2 151.7,392.4C152.3,393.7 152.9,394.9 153.4,396.0C154.0,397.2 154.6,398.4 155.1,399.6C155.6,400.7 156.2,401.9 156.7,403.1C157.2,404.2 157.7,405.4 158.3,406.5C158.8,407.7 159.3,408.9 159.8,410.0C160.3,411.2 160.8,412.3 161.4,413.5C161.9,414.7 162.4,415.8 162.9,417.0C163.5,418.2 164.0,419.3 164.6,420.5C165.1,421.7 165.7,422.9 166.2,424.1C166.8,425.2 167.4,426.4 168.0,427.6C168.6,428.8 169.2,430.0 169.9,431.2C170.5,432.4 171.2,433.6 171.9,434.8C172.5,436.0 173.2,437.2 174.0,438.4C174.7,439.5 175.4,440.7 176.2,441.8C177.0,443.0 177.8,444.1 178.6,445.2C179.5,446.3 180.3,447.4 181.2,448.4C182.1,449.4 183.1,450.4 184.0,451.4C185.0,452.4 186.0,453.3 187.0,454.2C188.0,455.1 189.1,455.9 190.2,456.7C191.3,457.5 192.4,458.3 193.6,458.9C194.8,459.6 196.0,460.3 197.2,460.7C198.4,461.2 199.7,461.5 200.9,461.7C202.1,461.8 203.3,461.7 204.5,461.4C205.7,461.1 206.9,460.6 208.0,460.0C209.1,459.4 210.1,458.6 211.1,457.8C212.1,457.0 213.0,456.0 213.8,455.0C214.7,454.1 215.5,453.0 216.3,451.9C217.1,450.7 217.8,449.6 218.5,448.4C219.3,447.2 219.9,445.9 220.6,444.7C221.2,443.4 221.8,442.1 222.4,440.9C223.0,439.6 223.6,438.3 224.2,437.1C224.8,435.8 225.4,434.6 226.0,433.4C226.6,432.2 227.2,431.0 227.9,429.8C228.6,428.7 229.2,427.5 230.0,426.5C230.7,425.4 231.5,424.4 232.4,423.4C233.3,422.4 234.2,421.5 235.2,420.7C236.2,419.9 237.3,419.1 238.5,418.5C239.6,417.8 240.9,417.2 242.1,416.7C243.4,416.3 244.7,415.9 246.0,415.6C247.3,415.3 248.6,415.2 249.9,415.1C251.2,415.1 252.4,415.1 253.7,415.3C255.0,415.5 256.3,415.8 257.5,416.1C258.8,416.4 260.0,416.9 261.2,417.4C262.5,417.8 263.7,418.4 264.9,419.0C266.1,419.6 267.3,420.2 268.5,420.8C269.7,421.5 270.9,422.2 272.1,422.9C273.3,423.5 274.5,424.2 275.7,424.9C276.8,425.6 278.0,426.2 279.2,426.8C280.3,427.5 281.5,428.1 282.6,428.7C283.8,429.3 285.0,430.0 286.1,430.6C287.3,431.2 288.4,431.8 289.5,432.5C290.7,433.1 291.8,433.8 293.0,434.4C294.1,435.1 295.3,435.8 296.4,436.4C297.5,437.1 298.7,437.8 299.8,438.5C301.0,439.2 302.1,439.9 303.2,440.7C304.4,441.4 305.5,442.1 306.7,442.8C307.8,443.5 308.9,444.2 310.1,444.9C311.2,445.7 312.4,446.4 313.5,447.1C314.7,447.8 315.8,448.5 317.0,449.2C318.1,449.9 319.3,450.6 320.4,451.3C321.6,452.0 322.8,452.7 323.9,453.3C325.1,454.0 326.3,454.7 327.4,455.3C328.6,455.9 329.8,456.6 331.0,457.2C332.2,457.8 333.4,458.4 334.6,458.9C335.7,459.5 337.0,460.1 338.2,460.6C339.4,461.1 340.6,461.7 341.8,462.1C343.0,462.6 344.3,463.1 345.5,463.5C346.7,464.0 348.0,464.4 349.2,464.8C350.5,465.2 351.7,465.6 353.0,465.9C354.3,466.3 355.5,466.6 356.8,467.0C358.1,467.3 359.3,467.6 360.6,467.9C361.9,468.2 363.2,468.5 364.5,468.7C365.8,469.0 367.1,469.2 368.4,469.5C369.7,469.7 371.0,470.0 372.3,470.2C373.6,470.4 374.9,470.6 376.2,470.8C377.5,471.0 378.9,471.2 380.2,471.3C381.5,471.5 382.8,471.7 384.2,471.9C385.5,472.0 386.8,472.2 388.2,472.3C389.5,472.5 390.8,472.7 392.2,472.8C393.5,473.0 394.9,473.1 396.2,473.2C397.5,473.4 398.9,473.5 400.2,473.6C401.6,473.8 402.9,473.9 404.3,474.0C405.6,474.2 407.0,474.3 408.3,474.4C409.7,474.5 411.0,474.6 412.3,474.7C413.7,474.8 415.0,474.9 416.4,475.0C417.7,475.1 419.1,475.2 420.4,475.3C421.8,475.4 423.1,475.4 424.5,475.5C425.8,475.6 427.2,475.6 428.5,475.7C429.8,475.8 431.2,475.8 432.5,475.9C433.9,475.9 435.2,475.9 436.5,476.0C437.9,476.0 439.2,476.0 440.5,476.0C441.9,476.1 443.2,476.1 444.5,476.1C445.8,476.1 447.2,476.1 448.5,476.1C449.8,476.1 451.1,476.0 452.4,476.0C453.7,476.0 455.0,476.0 456.3,475.9C457.6,475.9 459.3,475.8 460.2,475.8C461.2,475.7 461.7,475.7 462.0,475.7" stroke="#ff0000"/>
<path class="cv" d="M107.70,451.50C107.8,450.8 108.2,448.9 108.5,447.6C108.7,446.3 108.9,444.9 109.1,443.6C109.3,442.3 109.4,441.0 109.6,439.7C109.7,438.3 109.8,437.0 109.9,435.7C110.0,434.4 110.1,433.0 110.2,431.7C110.3,430.4 110.4,429.0 110.4,427.7C110.5,426.4 110.6,425.0 110.7,423.7C110.7,422.4 110.8,421.0 110.9,419.7C110.9,418.4 111.0,417.0 111.1,415.7C111.2,414.4 111.3,413.0 111.4,411.7C111.5,410.4 111.6,409.0 111.7,407.7C111.9,406.4 112.0,405.1 112.2,403.7C112.4,402.4 112.6,401.1 112.8,399.8C113.0,398.4 113.3,397.1 113.6,395.8C113.9,394.5 114.2,393.2 114.5,391.9C114.9,390.6 115.3,389.3 115.7,388.0C116.1,386.7 116.6,385.4 117.1,384.1C117.6,382.8 118.2,381.5 118.8,380.3C119.4,379.0 120.1,377.7 120.8,376.5C121.5,375.2 122.3,374.0 123.1,372.9C123.9,371.9 124.7,370.8 125.6,370.0C126.5,369.2 127.4,368.5 128.3,368.1C129.3,367.6 130.3,367.4 131.3,367.4C132.3,367.4 133.3,367.7 134.3,368.2C135.3,368.7 136.2,369.5 137.1,370.3C138.0,371.2 138.8,372.3 139.6,373.5C140.4,374.7 141.1,376.0 141.8,377.4C142.5,378.7 143.1,380.2 143.7,381.6C144.3,383.0 144.9,384.5 145.4,385.9C146.0,387.3 146.5,388.6 147.0,390.0C147.5,391.3 147.9,392.6 148.4,393.9C148.8,395.2 149.3,396.5 149.7,397.7C150.2,399.0 150.6,400.2 151.1,401.4C151.5,402.6 151.9,403.8 152.4,405.0C152.9,406.1 153.3,407.3 153.8,408.5C154.3,409.6 154.8,410.8 155.3,411.9C155.9,413.1 156.4,414.2 157.0,415.3C157.6,416.5 158.2,417.6 158.8,418.7C159.4,419.9 160.0,421.0 160.7,422.1C161.3,423.3 162.0,424.4 162.7,425.6C163.3,426.7 164.0,427.9 164.7,429.0C165.4,430.2 166.1,431.3 166.8,432.5C167.5,433.7 168.2,434.9 168.9,436.1C169.7,437.2 170.4,438.4 171.1,439.6C171.9,440.8 172.6,441.9 173.4,443.1C174.2,444.2 175.0,445.4 175.8,446.4C176.7,447.5 177.5,448.6 178.4,449.6C179.3,450.7 180.2,451.7 181.1,452.6C182.1,453.6 183.0,454.5 184.0,455.3C185.1,456.1 186.1,456.9 187.2,457.6C188.3,458.4 189.4,459.0 190.6,459.6C191.8,460.2 193.1,460.7 194.3,461.1C195.6,461.5 196.9,461.8 198.2,462.0C199.5,462.3 200.8,462.4 202.1,462.4C203.3,462.4 204.6,462.2 205.8,462.0C207.0,461.7 208.2,461.3 209.4,460.8C210.5,460.2 211.5,459.5 212.6,458.7C213.6,457.9 214.5,457.0 215.5,456.0C216.4,455.0 217.3,453.9 218.1,452.8C219.0,451.7 219.8,450.5 220.5,449.4C221.3,448.2 222.1,447.1 222.8,445.9C223.6,444.8 224.3,443.6 225.1,442.5C225.8,441.3 226.5,440.2 227.3,439.0C228.0,437.9 228.7,436.8 229.5,435.7C230.3,434.6 231.1,433.6 231.9,432.5C232.7,431.5 233.5,430.4 234.4,429.4C235.3,428.5 236.3,427.5 237.2,426.6C238.2,425.7 239.2,424.8 240.3,423.9C241.4,423.1 242.5,422.3 243.6,421.5C244.7,420.8 245.9,420.1 247.0,419.4C248.2,418.8 249.4,418.2 250.6,417.7C251.8,417.1 253.0,416.7 254.3,416.2C255.5,415.8 256.8,415.5 258.0,415.2C259.3,414.8 260.6,414.6 261.9,414.4C263.2,414.1 264.5,414.0 265.8,413.9C267.1,413.7 268.4,413.7 269.7,413.6C271.0,413.6 272.3,413.6 273.6,413.7C274.9,413.7 276.3,413.8 277.6,413.9C278.9,414.0 280.2,414.2 281.6,414.4C282.9,414.6 284.2,414.8 285.5,415.0C286.8,415.3 288.1,415.6 289.4,415.9C290.7,416.2 292.0,416.5 293.3,416.9C294.6,417.2 295.9,417.6 297.1,418.0C298.4,418.4 299.7,418.8 301.0,419.3C302.2,419.7 303.5,420.2 304.7,420.6C306.0,421.1 307.2,421.6 308.5,422.1C309.8,422.6 311.0,423.1 312.2,423.6C313.5,424.1 314.7,424.6 316.0,425.1C317.2,425.6 318.5,426.2 319.7,426.7C320.9,427.2 322.2,427.8 323.4,428.3C324.7,428.8 325.9,429.3 327.1,429.9C328.4,430.4 329.6,430.9 330.9,431.4C332.1,431.9 333.3,432.4 334.6,432.9C335.8,433.4 337.1,433.9 338.3,434.3C339.6,434.8 340.8,435.2 342.1,435.7C343.3,436.1 344.6,436.5 345.9,436.9C347.1,437.3 348.4,437.7 349.7,438.1C350.9,438.5 352.2,438.8 353.5,439.2C354.7,439.5 356.0,439.9 357.3,440.2C358.6,440.5 359.9,440.8 361.2,441.1C362.4,441.4 363.7,441.7 365.0,442.0C366.3,442.3 367.6,442.6 368.9,442.9C370.2,443.2 371.5,443.4 372.8,443.7C374.1,443.9 375.4,444.2 376.7,444.5C378.0,444.7 379.3,445.0 380.6,445.2C381.9,445.4 383.2,445.7 384.5,445.9C385.8,446.2 387.2,446.4 388.5,446.7C389.8,446.9 391.1,447.1 392.4,447.4C393.7,447.6 395.0,447.9 396.4,448.1C397.7,448.3 399.0,448.6 400.3,448.8C401.6,449.0 403.0,449.3 404.3,449.5C405.6,449.7 406.9,450.0 408.3,450.2C409.6,450.4 410.9,450.7 412.2,450.9C413.6,451.1 414.9,451.3 416.2,451.5C417.5,451.7 418.9,451.9 420.2,452.1C421.5,452.3 422.9,452.5 424.2,452.7C425.5,452.9 426.8,453.0 428.2,453.2C429.5,453.4 430.8,453.5 432.2,453.7C433.5,453.8 434.8,454.0 436.1,454.1C437.5,454.2 438.8,454.4 440.1,454.5C441.5,454.6 442.8,454.7 444.1,454.8C445.4,454.9 446.8,454.9 448.1,455.0C449.4,455.1 450.7,455.1 452.1,455.2C453.4,455.2 454.7,455.2 456.0,455.2C457.3,455.2 459.0,455.2 460.0,455.2C461.0,455.2 461.7,455.2 462.0,455.2" stroke="#000000" stroke-dasharray="7.5,2.2,2.3,2.2"/>
<path class="cv" d="M107.70,453.20C107.8,452.6 108.2,450.9 108.5,449.6C108.7,448.4 108.9,447.2 109.1,445.9C109.3,444.6 109.5,443.3 109.7,441.9C109.8,440.6 110.0,439.3 110.2,437.9C110.4,436.5 110.6,435.2 110.8,433.8C110.9,432.4 111.1,431.0 111.4,429.6C111.6,428.2 111.8,426.8 112.0,425.5C112.3,424.1 112.6,422.7 112.9,421.3C113.2,420.0 113.5,418.6 113.9,417.3C114.3,416.0 114.7,414.6 115.1,413.4C115.6,412.1 116.1,410.8 116.6,409.6C117.2,408.4 117.8,407.2 118.4,406.0C119.1,404.8 119.8,403.7 120.6,402.6C121.3,401.6 122.2,400.5 123.1,399.7C123.9,398.9 124.9,398.1 125.8,397.9C126.7,397.8 127.6,398.1 128.5,398.6C129.4,399.2 130.3,400.3 131.1,401.4C131.9,402.4 132.7,403.7 133.5,404.9C134.2,406.0 134.9,407.2 135.6,408.4C136.2,409.6 136.8,410.9 137.4,412.1C138.0,413.3 138.6,414.6 139.1,415.8C139.6,417.1 140.1,418.3 140.6,419.6C141.0,420.8 141.5,422.1 141.9,423.4C142.4,424.6 142.8,425.9 143.2,427.2C143.6,428.5 143.9,429.8 144.3,431.1C144.7,432.4 145.0,433.7 145.4,435.0C145.7,436.2 146.1,437.5 146.5,438.8C146.8,440.1 147.2,441.4 147.5,442.7C147.9,444.0 148.2,445.3 148.6,446.6C149.0,447.8 149.4,449.1 149.8,450.4C150.2,451.7 150.6,452.9 151.0,454.2C151.4,455.5 151.9,456.7 152.3,458.0C152.8,459.2 153.3,460.4 153.7,461.7C154.2,462.9 154.7,464.2 155.2,465.4C155.7,466.6 156.2,467.9 156.7,469.1C157.2,470.3 157.7,471.5 158.2,472.8C158.7,474.0 159.2,475.2 159.7,476.5C160.2,477.7 160.7,478.9 161.2,480.2C161.7,481.4 162.2,482.6 162.7,483.9C163.2,485.1 163.6,486.4 164.1,487.6C164.5,488.9 165.0,490.1 165.4,491.4C165.8,492.7 166.2,493.9 166.6,495.2C167.0,496.5 167.4,497.8 167.8,499.1C168.2,500.3 168.6,501.6 168.9,502.9C169.3,504.2 169.7,505.5 170.1,506.8C170.5,508.1 170.8,509.3 171.2,510.6C171.6,511.9 172.0,513.2 172.4,514.4C172.9,515.7 173.3,517.0 173.7,518.2C174.2,519.5 174.6,520.8 175.1,522.0C175.6,523.3 176.0,524.5 176.6,525.7C177.1,527.0 177.6,528.2 178.2,529.4C178.8,530.6 179.3,531.8 180.0,533.0C180.6,534.2 181.3,535.4 182.0,536.5C182.7,537.7 183.4,538.8 184.2,540.0C184.9,541.1 185.7,542.2 186.6,543.3C187.5,544.3 188.4,545.3 189.3,546.3C190.3,547.2 191.3,548.1 192.4,548.8C193.5,549.5 194.6,550.2 195.7,550.7C196.9,551.1 198.1,551.5 199.3,551.7C200.5,551.8 201.7,551.8 202.9,551.7C204.1,551.5 205.3,551.2 206.5,550.8C207.7,550.4 208.9,549.8 210.0,549.1C211.2,548.5 212.3,547.8 213.5,547.0C214.6,546.2 215.7,545.3 216.7,544.4C217.8,543.6 218.8,542.6 219.8,541.7C220.9,540.8 221.9,539.8 222.9,538.9C224.0,538.0 225.0,537.2 226.1,536.3C227.2,535.5 228.3,534.6 229.4,533.8C230.5,533.0 231.6,532.3 232.7,531.5C233.8,530.7 235.0,530.0 236.1,529.3C237.3,528.6 238.4,527.9 239.6,527.2C240.8,526.5 241.9,525.8 243.1,525.2C244.3,524.5 245.4,523.8 246.6,523.2C247.8,522.6 249.0,522.0 250.2,521.3C251.4,520.7 252.6,520.1 253.8,519.6C255.0,519.0 256.2,518.4 257.4,517.8C258.6,517.3 259.8,516.7 261.0,516.2C262.2,515.6 263.4,515.1 264.6,514.6C265.9,514.1 267.1,513.6 268.3,513.1C269.6,512.6 270.8,512.1 272.0,511.7C273.3,511.2 274.5,510.7 275.7,510.3C277.0,509.8 278.2,509.4 279.5,509.0C280.7,508.5 282.0,508.1 283.2,507.7C284.5,507.3 285.7,506.9 287.0,506.5C288.3,506.1 289.5,505.7 290.8,505.4C292.1,505.0 293.3,504.6 294.6,504.3C295.9,503.9 297.2,503.6 298.4,503.3C299.7,502.9 301.0,502.6 302.3,502.3C303.6,502.0 304.8,501.7 306.1,501.4C307.4,501.1 308.7,500.8 310.0,500.5C311.3,500.2 312.6,499.9 313.9,499.7C315.2,499.4 316.5,499.1 317.8,498.9C319.1,498.6 320.4,498.4 321.7,498.2C323.0,497.9 324.3,497.7 325.6,497.5C326.9,497.2 328.2,497.0 329.6,496.8C330.9,496.6 332.2,496.4 333.5,496.2C334.8,496.0 336.1,495.8 337.5,495.6C338.8,495.5 340.1,495.3 341.4,495.1C342.8,494.9 344.1,494.8 345.4,494.6C346.7,494.5 348.1,494.3 349.4,494.2C350.7,494.0 352.0,493.9 353.4,493.7C354.7,493.6 356.0,493.5 357.4,493.3C358.7,493.2 360.0,493.1 361.4,493.0C362.7,492.8 364.0,492.7 365.4,492.6C366.7,492.5 368.1,492.4 369.4,492.3C370.7,492.2 372.1,492.1 373.4,492.0C374.7,491.9 376.1,491.8 377.4,491.7C378.8,491.6 380.1,491.5 381.4,491.5C382.8,491.4 384.1,491.3 385.5,491.2C386.8,491.2 388.2,491.1 389.5,491.0C390.8,490.9 392.2,490.9 393.5,490.8C394.9,490.7 396.2,490.7 397.5,490.6C398.9,490.6 400.2,490.5 401.6,490.4C402.9,490.4 404.2,490.3 405.6,490.3C406.9,490.2 408.3,490.2 409.6,490.1C410.9,490.1 412.3,490.0 413.6,490.0C415.0,489.9 416.3,489.9 417.6,489.8C419.0,489.8 420.3,489.7 421.6,489.7C423.0,489.6 424.3,489.6 425.6,489.6C427.0,489.5 428.3,489.5 429.6,489.4C431.0,489.4 432.3,489.3 433.6,489.3C435.0,489.2 436.3,489.2 437.6,489.1C438.9,489.1 440.3,489.0 441.6,489.0C442.9,489.0 444.2,488.9 445.6,488.9C446.9,488.8 448.2,488.7 449.5,488.7C450.8,488.6 452.2,488.6 453.5,488.5C454.8,488.5 456.1,488.4 457.4,488.4C458.7,488.3 460.6,488.2 461.3,488.2C462.1,488.1 461.9,488.1 462.0,488.1" stroke="#0000ff" stroke-dasharray="2.5,2.4"/>
<path class="cv" d="M107.70,444.70C107.8,444.3 108.1,443.4 108.4,442.2C108.6,441.0 108.9,439.1 109.3,437.4C109.6,435.8 110.0,433.8 110.4,432.3C110.9,430.8 111.3,429.2 111.8,428.4C112.2,427.7 112.7,427.3 113.2,427.7C113.7,428.0 114.2,429.2 114.8,430.4C115.3,431.5 115.8,433.2 116.3,434.6C116.9,436.0 117.4,437.3 117.9,438.7C118.4,440.0 118.9,441.3 119.5,442.6C120.0,443.9 120.5,445.1 121.1,446.3C121.6,447.6 122.2,448.8 122.7,450.0C123.3,451.1 123.9,452.3 124.5,453.5C125.0,454.6 125.6,455.7 126.2,456.9C126.9,458.0 127.5,459.1 128.1,460.2C128.8,461.4 129.4,462.5 130.1,463.6C130.8,464.7 131.5,465.8 132.2,466.9C132.9,468.0 133.6,469.1 134.3,470.3C135.0,471.4 135.7,472.5 136.4,473.7C137.0,474.8 137.7,476.0 138.3,477.2C138.9,478.3 139.6,479.5 140.2,480.7C140.8,481.9 141.3,483.1 141.9,484.3C142.5,485.5 143.0,486.7 143.6,488.0C144.1,489.2 144.6,490.4 145.1,491.7C145.6,492.9 146.1,494.2 146.6,495.4C147.1,496.7 147.5,497.9 148.0,499.2C148.5,500.4 148.9,501.7 149.3,503.0C149.8,504.3 150.2,505.5 150.6,506.8C151.0,508.1 151.4,509.4 151.8,510.7C152.2,512.0 152.6,513.2 153.0,514.5C153.4,515.8 153.7,517.1 154.1,518.4C154.5,519.7 154.8,521.0 155.2,522.3C155.5,523.6 155.9,524.8 156.2,526.1C156.6,527.4 156.9,528.7 157.2,530.0C157.6,531.3 157.9,532.6 158.2,533.8C158.5,535.1 158.9,536.4 159.2,537.6C159.5,538.9 159.9,540.2 160.2,541.4C160.5,542.7 160.9,543.9 161.3,545.2C161.7,546.4 162.1,547.7 162.5,548.9C162.9,550.1 163.4,551.4 163.9,552.6C164.4,553.8 164.9,555.0 165.4,556.2C166.0,557.4 166.6,558.6 167.3,559.8C168.0,560.9 168.7,562.1 169.4,563.3C170.2,564.4 171.0,565.6 171.9,566.7C172.8,567.8 173.8,569.0 174.8,570.0C175.8,571.0 176.9,572.0 177.9,572.8C179.0,573.6 180.1,574.3 181.3,574.8C182.4,575.2 183.5,575.6 184.7,575.6C185.8,575.6 186.9,575.3 188.1,574.9C189.2,574.5 190.3,573.8 191.3,573.0C192.4,572.3 193.4,571.4 194.4,570.5C195.4,569.6 196.3,568.5 197.3,567.5C198.2,566.4 199.1,565.3 200.1,564.2C201.0,563.1 201.9,561.9 202.7,560.8C203.6,559.6 204.5,558.5 205.4,557.4C206.3,556.4 207.2,555.3 208.1,554.3C209.0,553.4 209.9,552.5 210.9,551.7C211.8,550.8 212.8,550.1 213.8,549.3C214.7,548.5 215.8,547.8 216.8,547.1C217.9,546.4 219.0,545.7 220.1,545.0C221.2,544.3 222.3,543.7 223.5,543.0C224.6,542.4 225.8,541.7 227.0,541.1C228.1,540.4 229.4,539.8 230.6,539.2C231.8,538.6 233.0,538.0 234.2,537.4C235.4,536.8 236.6,536.2 237.9,535.6C239.1,535.0 240.3,534.4 241.5,533.8C242.7,533.2 243.9,532.7 245.1,532.1C246.3,531.5 247.5,530.9 248.7,530.3C249.8,529.8 251.0,529.2 252.2,528.6C253.4,528.0 254.5,527.4 255.7,526.8C256.9,526.2 258.0,525.6 259.2,525.0C260.3,524.4 261.5,523.8 262.7,523.2C263.8,522.6 265.0,521.9 266.2,521.3C267.3,520.7 268.5,520.0 269.7,519.4C270.8,518.8 272.0,518.1 273.2,517.5C274.3,516.8 275.5,516.2 276.7,515.5C277.8,514.9 279.0,514.2 280.2,513.6C281.4,512.9 282.5,512.3 283.7,511.6C284.9,511.0 286.1,510.3 287.3,509.7C288.4,509.0 289.6,508.4 290.8,507.7C292.0,507.1 293.2,506.5 294.4,505.8C295.5,505.2 296.7,504.6 297.9,503.9C299.1,503.3 300.3,502.7 301.5,502.1C302.7,501.5 303.9,500.9 305.1,500.3C306.3,499.7 307.5,499.1 308.7,498.5C310.0,497.9 311.2,497.4 312.4,496.8C313.6,496.2 314.8,495.7 316.0,495.2C317.3,494.6 318.5,494.1 319.7,493.6C320.9,493.1 322.2,492.6 323.4,492.1C324.6,491.6 325.9,491.1 327.1,490.7C328.4,490.2 329.6,489.8 330.9,489.3C332.1,488.9 333.4,488.5 334.6,488.1C335.9,487.7 337.2,487.4 338.4,487.0C339.7,486.6 341.0,486.3 342.2,486.0C343.5,485.7 344.8,485.4 346.1,485.1C347.4,484.8 348.7,484.6 349.9,484.3C351.2,484.1 352.5,483.9 353.8,483.7C355.1,483.4 356.4,483.3 357.8,483.1C359.1,482.9 360.4,482.7 361.7,482.6C363.0,482.4 364.3,482.3 365.6,482.2C367.0,482.1 368.3,482.0 369.6,481.9C370.9,481.8 372.3,481.7 373.6,481.6C374.9,481.5 376.3,481.5 377.6,481.4C378.9,481.4 380.3,481.3 381.6,481.3C382.9,481.2 384.3,481.2 385.6,481.2C387.0,481.2 388.3,481.1 389.7,481.1C391.0,481.1 392.4,481.1 393.7,481.1C395.0,481.1 396.4,481.1 397.7,481.1C399.1,481.1 400.4,481.1 401.8,481.2C403.1,481.2 404.5,481.2 405.8,481.2C407.2,481.2 408.5,481.2 409.9,481.3C411.2,481.3 412.6,481.3 413.9,481.3C415.3,481.3 416.6,481.3 418.0,481.4C419.3,481.4 420.7,481.4 422.0,481.4C423.4,481.4 424.7,481.4 426.1,481.4C427.4,481.4 428.7,481.4 430.1,481.4C431.4,481.3 432.8,481.3 434.1,481.3C435.4,481.3 436.8,481.2 438.1,481.2C439.4,481.2 440.8,481.1 442.1,481.0C443.4,481.0 444.7,480.9 446.1,480.8C447.4,480.8 448.7,480.7 450.0,480.6C451.3,480.5 452.7,480.3 454.0,480.2C455.3,480.1 456.6,479.9 457.9,479.8C459.2,479.6 461.1,479.4 461.8,479.3C462.5,479.2 461.9,479.3 462.0,479.3" stroke="#00ff00" stroke-dasharray="7.5,2.3"/>
<path class="cv" d="M107.70,456.60C107.8,456.0 108.1,454.1 108.2,452.8C108.4,451.5 108.6,450.2 108.7,448.9C108.9,447.6 109.1,446.3 109.3,445.0C109.4,443.7 109.6,442.4 109.8,441.0C110.0,439.7 110.1,438.4 110.3,437.1C110.5,435.7 110.7,434.4 110.8,433.1C111.0,431.7 111.2,430.4 111.4,429.0C111.5,427.7 111.7,426.4 111.9,425.0C112.1,423.7 112.3,422.3 112.4,421.0C112.6,419.6 112.8,418.3 113.0,416.9C113.2,415.6 113.4,414.3 113.6,412.9C113.7,411.6 113.9,410.2 114.1,408.9C114.3,407.5 114.5,406.2 114.7,404.9C114.9,403.5 115.1,402.2 115.3,400.9C115.5,399.6 115.7,398.2 116.0,396.9C116.2,395.6 116.4,394.3 116.6,393.0C116.8,391.7 117.0,390.4 117.3,389.1C117.5,387.8 117.7,386.5 118.0,385.2C118.2,384.0 118.4,382.7 118.7,381.4C118.9,380.2 119.2,378.9 119.4,377.7C119.7,376.4 120.0,375.2 120.2,373.9C120.5,372.7 120.8,371.4 121.1,370.1C121.4,368.9 121.8,367.6 122.1,366.3C122.5,365.0 122.9,363.7 123.3,362.4C123.7,361.0 124.1,359.7 124.6,358.3C125.0,356.9 125.5,355.5 126.1,354.1C126.6,352.7 127.2,351.3 127.8,349.9C128.4,348.6 129.1,347.3 129.8,346.1C130.5,344.9 131.2,343.8 132.0,342.9C132.8,342.0 133.7,341.2 134.5,340.7C135.4,340.3 136.3,340.1 137.2,340.3C138.1,340.5 139.0,341.2 139.8,341.9C140.7,342.7 141.5,343.7 142.3,344.8C143.1,345.8 143.8,347.0 144.5,348.1C145.3,349.3 145.9,350.6 146.6,351.8C147.3,353.1 148.0,354.4 148.7,355.6C149.4,356.9 150.1,358.2 150.8,359.4C151.5,360.6 152.3,361.8 153.0,363.0C153.8,364.2 154.6,365.3 155.4,366.4C156.2,367.5 157.0,368.6 157.9,369.6C158.7,370.7 159.6,371.7 160.5,372.7C161.3,373.7 162.2,374.7 163.1,375.6C164.0,376.6 164.9,377.6 165.9,378.5C166.8,379.4 167.7,380.4 168.7,381.3C169.6,382.2 170.5,383.1 171.5,384.0C172.4,384.9 173.4,385.8 174.3,386.7C175.3,387.6 176.2,388.5 177.2,389.4C178.1,390.3 179.1,391.2 180.0,392.1C181.0,393.0 181.9,393.9 182.9,394.8C183.8,395.7 184.7,396.6 185.6,397.5C186.6,398.5 187.5,399.4 188.4,400.4C189.3,401.4 190.2,402.4 191.0,403.4C191.9,404.4 192.8,405.4 193.6,406.4C194.4,407.5 195.3,408.5 196.1,409.6C196.9,410.7 197.7,411.8 198.5,412.9C199.3,414.0 200.1,415.1 200.8,416.3C201.6,417.4 202.4,418.5 203.2,419.7C204.0,420.8 204.7,421.9 205.5,423.1C206.3,424.2 207.1,425.3 207.9,426.5C208.6,427.6 209.4,428.7 210.2,429.8C211.0,430.9 211.8,432.0 212.7,433.0C213.5,434.1 214.3,435.2 215.2,436.2C216.0,437.2 216.9,438.2 217.8,439.2C218.6,440.2 219.5,441.2 220.4,442.1C221.4,443.0 222.3,444.0 223.2,444.9C224.2,445.7 225.1,446.6 226.1,447.5C227.1,448.3 228.1,449.2 229.1,450.0C230.1,450.8 231.1,451.6 232.1,452.4C233.2,453.2 234.2,453.9 235.3,454.7C236.3,455.4 237.4,456.1 238.5,456.8C239.6,457.5 240.7,458.2 241.8,458.9C243.0,459.6 244.1,460.2 245.3,460.8C246.4,461.5 247.6,462.1 248.8,462.7C249.9,463.3 251.1,463.9 252.3,464.5C253.6,465.1 254.8,465.6 256.0,466.2C257.2,466.7 258.5,467.2 259.7,467.7C261.0,468.3 262.3,468.8 263.5,469.3C264.8,469.7 266.1,470.2 267.4,470.7C268.6,471.2 269.9,471.6 271.2,472.0C272.5,472.5 273.8,472.9 275.1,473.3C276.4,473.7 277.7,474.2 279.0,474.6C280.3,474.9 281.6,475.3 282.9,475.7C284.1,476.1 285.4,476.5 286.7,476.8C288.0,477.2 289.3,477.5 290.6,477.9C291.8,478.2 293.1,478.5 294.4,478.9C295.7,479.2 297.0,479.5 298.2,479.8C299.5,480.1 300.8,480.5 302.1,480.8C303.4,481.1 304.6,481.4 305.9,481.7C307.2,482.0 308.5,482.3 309.8,482.6C311.0,482.9 312.3,483.1 313.6,483.4C314.9,483.7 316.2,484.0 317.5,484.3C318.8,484.6 320.1,484.9 321.4,485.2C322.7,485.5 324.0,485.8 325.3,486.0C326.6,486.3 327.9,486.6 329.2,486.9C330.5,487.2 331.8,487.5 333.1,487.8C334.4,488.1 336.4,488.6 337.1,488.8C337.8,488.9 337.3,488.8 337.3,488.8" stroke="#ff00ff" stroke-dasharray="7.2,2.2,2.3,2.2,2.3,2.2"/>
<path d="M122.70,579.00v-5.8M122.70,326.20v5.8M158.40,579.00v-5.8M158.40,326.20v5.8M194.10,579.00v-5.8M194.10,326.20v5.8M229.80,579.00v-5.8M229.80,326.20v5.8M265.50,579.00v-5.8M265.50,326.20v5.8M301.20,579.00v-5.8M301.20,326.20v5.8M336.90,579.00v-5.8M336.90,326.20v5.8M372.60,579.00v-5.8M372.60,326.20v5.8M408.30,579.00v-5.8M408.30,326.20v5.8M444.00,579.00v-5.8M444.00,326.20v5.8M87.00,560.94h3.0M462.00,560.94h-3.0M87.00,542.89h5.8M462.00,542.89h-5.8M87.00,524.83h3.0M462.00,524.83h-3.0M87.00,506.77h5.8M462.00,506.77h-5.8M87.00,488.71h3.0M462.00,488.71h-3.0M87.00,470.66h5.8M462.00,470.66h-5.8M87.00,452.60h3.0M462.00,452.60h-3.0M87.00,434.54h5.8M462.00,434.54h-5.8M87.00,416.49h3.0M462.00,416.49h-3.0M87.00,398.43h5.8M462.00,398.43h-5.8M87.00,380.37h3.0M462.00,380.37h-3.0M87.00,362.31h5.8M462.00,362.31h-5.8M87.00,344.26h3.0M462.00,344.26h-3.0" stroke="#000" stroke-width="1.25" fill="none"/>
<rect x="87.00" y="326.20" width="375.00" height="252.80" fill="none" stroke="#000" stroke-width="1.6"/>
</g>
<g class="tk" text-anchor="end">
<text x="76.8" y="287.0">0</text><text x="76.8" y="250.9">0.5</text><text x="76.8" y="214.7">1</text><text x="76.8" y="178.6">1.5</text><text x="76.8" y="142.4">2</text><text x="76.8" y="106.3">2.5</text><text x="76.8" y="70.1">3</text><text x="76.8" y="34.0">3.5</text>
<text x="76.8" y="585.0">-1.5</text><text x="76.8" y="548.9">-1</text><text x="76.8" y="512.8">-0.5</text><text x="76.8" y="476.7">0</text><text x="76.8" y="440.5">0.5</text><text x="76.8" y="404.4">1</text><text x="76.8" y="368.3">1.5</text><text x="76.8" y="332.2">2</text>
</g>
<g class="tk" text-anchor="middle">
<text x="89.0" y="304.1">0.8</text><text x="124.7" y="304.1">1</text><text x="160.4" y="304.1">1.2</text><text x="196.1" y="304.1">1.4</text><text x="231.8" y="304.1">1.6</text><text x="267.5" y="304.1">1.8</text><text x="303.2" y="304.1">2</text><text x="338.9" y="304.1">2.2</text><text x="374.6" y="304.1">2.4</text><text x="410.3" y="304.1">2.6</text><text x="446.0" y="304.1">2.8</text>
<text x="89.0" y="602.3">0.8</text><text x="124.7" y="602.3">1</text><text x="160.4" y="602.3">1.2</text><text x="196.1" y="602.3">1.4</text><text x="231.8" y="602.3">1.6</text><text x="267.5" y="602.3">1.8</text><text x="303.2" y="602.3">2</text><text x="338.9" y="602.3">2.2</text><text x="374.6" y="602.3">2.4</text><text x="410.3" y="602.3">2.6</text><text x="446.0" y="602.3">2.8</text>
</g>
<g class="tk" text-anchor="end">
<text x="383.0" y="51.9">Fit 1x</text><text x="383.0" y="72.1">Fit 1ax</text><text x="383.0" y="92.5">Fit 2x</text><text x="383.0" y="112.8">Fit 2ax</text><text x="383.0" y="133.1">Maid</text><text x="383.0" y="153.3">CLAS</text><text x="383.0" y="173.6">SAPHIR</text>
</g>
<path class="cv" d="M392.8,46.1H441.7" stroke="#ff0000"/>
<path class="cv" d="M392.8,66.3H439.6" stroke="#000000" stroke-dasharray="7.5,2.2,2.3,2.2"/>
<path class="cv" d="M392.8,86.7H439.6" stroke="#0000ff" stroke-dasharray="2.5,2.4"/>
<path class="cv" d="M392.8,107.0H439.2" stroke="#00ff00" stroke-dasharray="7.5,2.3"/>
<path class="cv" d="M392.8,127.3H440.6" stroke="#ff00ff" stroke-dasharray="7.2,2.2,2.3,2.2,2.3,2.2"/>
<path d="M392.8,147.5H441.7" stroke="#0000ff" stroke-width="0.9" fill="none"/><circle cx="417.1" cy="147.5" r="3.2" fill="#0000ff"/>
<path d="M392.8,167.8H441.7" stroke="#ff7070" stroke-width="1.3" fill="none"/><rect x="414.1" y="164.8" width="6" height="6" fill="#ff0000"/>
<g font-size="19px" font-style="italic"><text x="140.6" y="65.2">p</text><text x="155.0" y="65.2" font-style="normal">(</text><text x="165.6" y="65.2" font-style="normal" font-size="21.5px">γ</text><text x="179.2" y="65.2" font-style="normal">,</text><text x="190.3" y="65.2">K</text><text x="206.3" y="57.3" font-style="normal" font-size="15px">+</text><text x="217.8" y="65.2" font-style="normal">)</text><text x="230.6" y="65.2" font-style="normal">Λ</text></g>
<g font-size="19px"><text transform="translate(21.8,183.0) rotate(-90)"><tspan font-size="22px">σ</tspan><tspan font-size="15.5px" dy="6.2" dx="0.5">T</tspan><tspan dy="-6.2" dx="3.0" letter-spacing="0.7">(μb)</tspan></text><text transform="translate(21.8,494.8) rotate(-90)">−<tspan font-size="22px" dx="0.5">σ</tspan><tspan font-size="15.5px" dy="6.2" dx="0.5">TT'</tspan><tspan dy="-6.2" dx="3.0" letter-spacing="0.7">(μb)</tspan></text><text x="238.9" y="626.5"><tspan font-style="italic">E</tspan><tspan font-size="15.5px" dy="5.2" dx="-0.3">γ</tspan><tspan dy="-5.2" dx="3.6" letter-spacing="0.18">(GeV)</tspan></text></g>
</svg>
</body></html>
